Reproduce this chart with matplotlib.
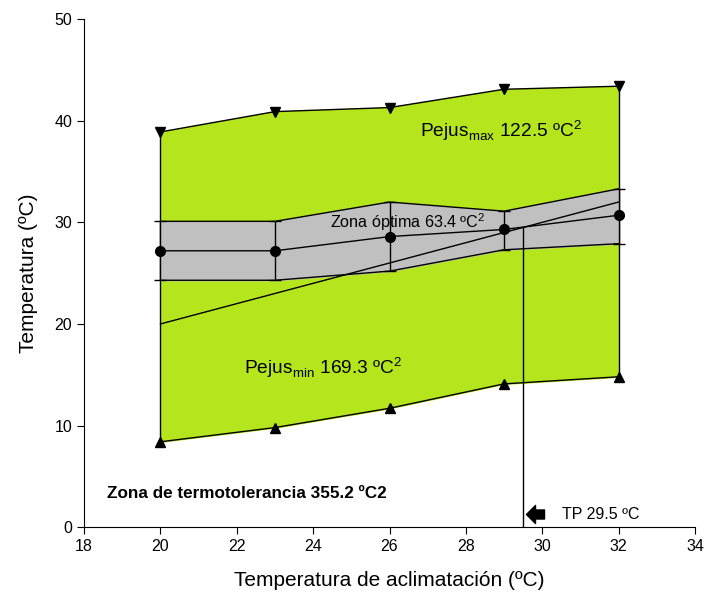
import matplotlib
matplotlib.use('Agg')
import matplotlib.pyplot as plt
from matplotlib.path import Path
import numpy as np

plt.rcParams['font.family'] = ['Liberation Sans', 'DejaVu Sans']

# acclimation temperatures
accl = [20, 23, 26, 29, 32]
# CTmax (pejus max), CTmin, optimum mean and its band
ctmax = [38.9, 40.9, 41.3, 43.1, 43.4]
ctmin = [8.4, 9.8, 11.7, 14.1, 14.8]
opt_mean = [27.2, 27.2, 28.6, 29.3, 30.7]
opt_upper = [30.1, 30.1, 32.0, 31.1, 33.3]
opt_lower = [24.3, 24.3, 25.2, 27.3, 27.9]
# 1:1 line and transition point
iso_x = [20, 32]
tp = 29.5

green = '#b5e61d'
grey = '#c0c0c0'

# left pointing block arrow
arrow = Path([(-1, 0), (0, 1), (0, 0.5), (1, 0.5), (1, -0.5), (0, -0.5), (0, -1), (-1, 0)],
             [Path.MOVETO] + [Path.LINETO] * 6 + [Path.CLOSEPOLY])

fig = plt.figure(figsize=(7.07, 5.99), dpi=100)
ax = fig.add_axes([0.119, 0.12, 0.864, 0.848])

# thermal tolerance polygon
ax.fill_between(accl, ctmin, ctmax, color=green, zorder=1)
ax.plot(accl, ctmax, color='black', lw=1, marker='v', ms=7, zorder=4)
ax.plot(accl, ctmin, color='black', lw=1, marker='^', ms=7, zorder=4)
ax.vlines([accl[0], accl[-1]], [ctmin[0], ctmin[-1]], [ctmax[0], ctmax[-1]],
          color='black', lw=1, zorder=2)

# optimum zone band
ax.fill_between(accl, opt_lower, opt_upper, color=grey, zorder=2)
ax.plot(accl, opt_upper, color='black', lw=1, zorder=3)
ax.plot(accl, opt_lower, color='black', lw=1, zorder=3)
err = [np.array(opt_mean) - np.array(opt_lower), np.array(opt_upper) - np.array(opt_mean)]
ax.errorbar(accl, opt_mean, yerr=err, color='black', lw=1, capsize=4,
            marker='o', ms=7, zorder=5)

# 1:1 line and transition point
ax.plot(iso_x, iso_x, color='black', lw=1, zorder=3)
ax.vlines(tp, 0, tp, color='black', lw=1, zorder=3)
ax.plot([29.8], [1.3], marker=arrow, ms=13, color='black', zorder=6)
ax.text(30.52, 1.2, 'TP 29.5 ºC', fontsize=11.5, va='center')

ax.text(26.8, 39.0, r'Pejus$_{\mathregular{max}}$ 122.5 ºC$^{\mathregular{2}}$', fontsize=13.8,
        va='center', zorder=6)
ax.text(24.45, 30.0, r'Zona óptima 63.4 ºC$^{\mathregular{2}}$', fontsize=11.6,
        va='center', zorder=6)
ax.text(22.2, 15.7, r'Pejus$_{\mathregular{min}}$ 169.3 ºC$^{\mathregular{2}}$', fontsize=13.8,
        va='center', zorder=6)
ax.text(18.6, 3.3, 'Zona de termotolerancia 355.2 ºC2', fontsize=12.3,
        fontweight='bold', va='center')

ax.set_xlim(18, 34)
ax.set_ylim(0, 50)
ax.set_xticks(range(18, 35, 2))
ax.set_yticks(range(0, 51, 10))
ax.spines['top'].set_visible(False)
ax.spines['right'].set_visible(False)
ax.tick_params(labelsize=11.5, length=5)
ax.set_xlabel('Temperatura de aclimatación (ºC)', fontsize=15, labelpad=12)
ax.set_ylabel('Temperatura (ºC)', fontsize=15, labelpad=12)

fig.savefig('out.png', dpi=100)
